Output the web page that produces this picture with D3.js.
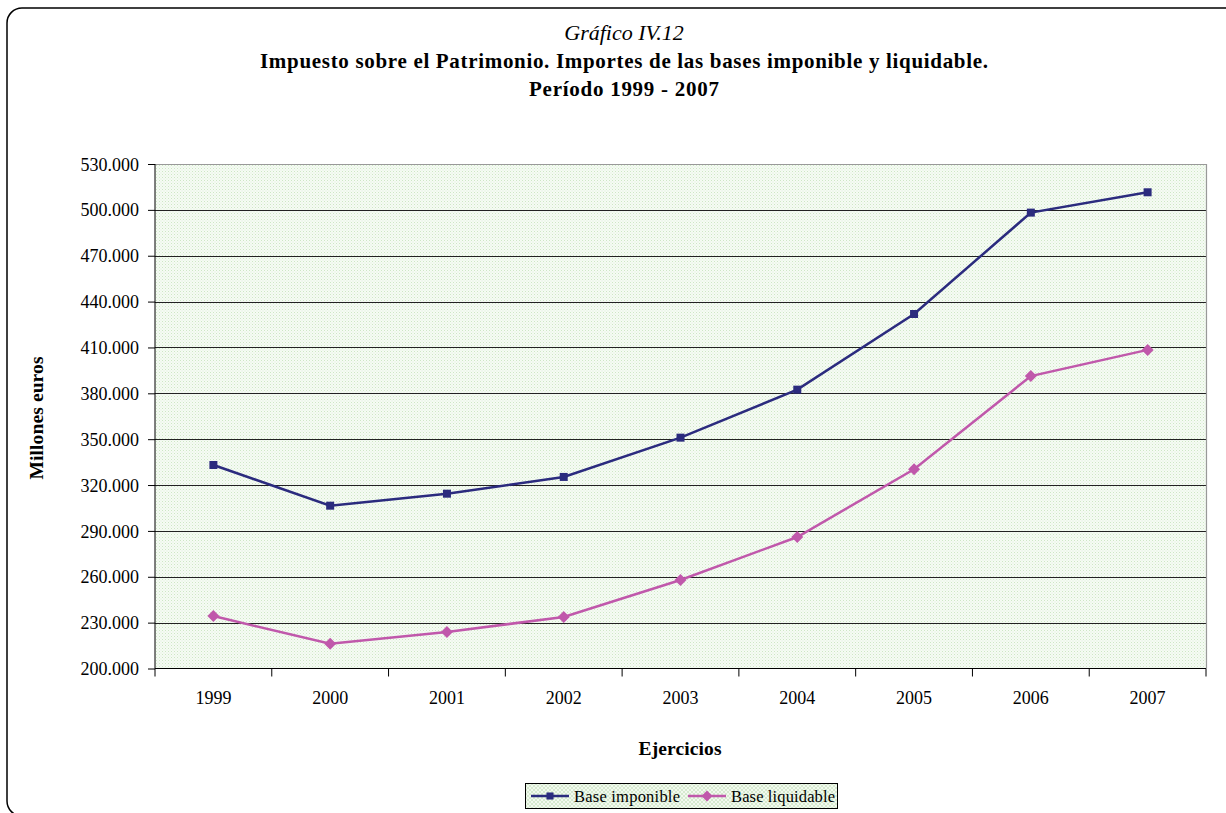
<!DOCTYPE html>
<html><head><meta charset="utf-8">
<script src="https://cdn.jsdelivr.net/npm/d3@7"></script>
<style>body{margin:0;background:#fff;}svg{display:block;}</style>
</head><body>
<svg id="c" width="1226" height="813"></svg>
<script>
const years = ["1999","2000","2001","2002","2003","2004","2005","2006","2007"];
const baseImponible = [333100, 306500, 314350, 325300, 351000, 382400, 431900, 498200, 511500];
const baseLiquidable = [234300, 216200, 223900, 233700, 257900, 286000, 330300, 391300, 408400];
const yTicks = [200000,230000,260000,290000,320000,350000,380000,410000,440000,470000,500000,530000];
const seriesNames = ["Base imponible","Base liquidable"];
const titleLines = ["Gráfico IV.12","Impuesto sobre el Patrimonio. Importes de las bases imponible y liquidable.","Período 1999 - 2007"];

const svg = d3.select("#c");
const serif = "'Liberation Serif','Times New Roman',serif";
const L=155, R=1206, T=164, B=668.5;

const defs = svg.append("defs");
const pat = defs.append("pattern").attr("id","dots").attr("patternUnits","userSpaceOnUse").attr("width",3).attr("height",3);
pat.append("rect").attr("width",3).attr("height",3).attr("fill","#f6fbf4");
pat.append("rect").attr("x",0).attr("y",0).attr("width",1).attr("height",1).attr("fill","#cde7c5");
pat.append("rect").attr("x",1.5).attr("y",1.5).attr("width",1).attr("height",1).attr("fill","#ddf0d8");
const pat2 = defs.append("pattern").attr("id","hatch").attr("patternUnits","userSpaceOnUse").attr("width",4).attr("height",4);
pat2.append("rect").attr("width",4).attr("height",4).attr("fill","#f2f9ef");
pat2.append("path").attr("d","M0,0L4,4M4,0L0,4").attr("stroke","#cfe6c6").attr("stroke-width",0.8);

// outer frame
svg.append("rect").attr("x",7).attr("y",8).attr("width",1240).attr("height",808).attr("rx",15)
  .attr("fill","#fff").attr("stroke","#000").attr("stroke-width",1.5);

// titles
svg.append("text").attr("x",624).attr("y",40).attr("text-anchor","middle").attr("font-family",serif)
  .attr("font-size",22).attr("font-style","italic").text(titleLines[0]);
svg.append("text").attr("x",624).attr("y",68).attr("text-anchor","middle").attr("font-family",serif)
  .attr("font-size",21).attr("font-weight","bold").attr("textLength",728).attr("lengthAdjust","spacing").text(titleLines[1]);
svg.append("text").attr("x",624).attr("y",96).attr("text-anchor","middle").attr("font-family",serif)
  .attr("font-size",21).attr("font-weight","bold").attr("textLength",190).attr("lengthAdjust","spacing").text(titleLines[2]);

const x = d3.scaleBand().domain(years).range([L,R]);
const y = d3.scaleLinear().domain([200000,530000]).range([B,T]);

svg.append("rect").attr("x",L).attr("y",T).attr("width",R-L).attr("height",B-T).attr("fill","url(#dots)");

// gridlines
svg.append("g").selectAll("line").data(yTicks.filter(d=>d>200000 && d<530000)).join("line")
  .attr("x1",L).attr("x2",R).attr("y1",d=>Math.round(y(d))+0.5).attr("y2",d=>Math.round(y(d))+0.5)
  .attr("stroke","#222").attr("stroke-width",1);
// top and right border gray
svg.append("path").attr("d",`M${L},${T+0.5}H${R+0.5}V${B}`).attr("fill","none").attr("stroke","#999").attr("stroke-width",1.2);

const fmt = d => d3.format(",")(d).replace(/,/g,".");
const yAxis = svg.append("g").attr("transform",`translate(${L},0)`)
  .call(d3.axisLeft(y).tickValues(yTicks).tickSize(7).tickPadding(9).tickFormat(fmt));
yAxis.selectAll("text").attr("font-family",serif).attr("font-size",18).attr("fill","#000").attr("dy","0.34em");
yAxis.selectAll("line,path").attr("stroke","#000");
yAxis.select(".domain").attr("d",`M0,${T}V${B}`);

const xAxis = svg.append("g").attr("transform",`translate(0,${B})`)
  .call(d3.axisBottom(x).tickSize(0).tickPadding(23));
xAxis.selectAll("text").attr("font-family",serif).attr("font-size",18).attr("fill","#000");
xAxis.select(".domain").attr("d",`M${L},0H${R}`).attr("stroke","#000");
svg.append("g").selectAll("line").data(years.map((d,i)=>i).concat([years.length])).join("line")
  .attr("x1",i=>L+i*x.bandwidth()).attr("x2",i=>L+i*x.bandwidth())
  .attr("y1",B).attr("y2",B+8).attr("stroke","#000");

// axis titles
svg.append("text").attr("transform","translate(43,418) rotate(-90)").attr("text-anchor","middle")
  .attr("font-family",serif).attr("font-size",19.5).attr("font-weight","bold")
  .attr("textLength",123).attr("lengthAdjust","spacing").text("Millones euros");
svg.append("text").attr("x",680).attr("y",755).attr("text-anchor","middle")
  .attr("font-family",serif).attr("font-size",19.5).attr("font-weight","bold")
  .attr("textLength",83).attr("lengthAdjust","spacing").text("Ejercicios");

const cx = d => x(d)+x.bandwidth()/2;
const colors = ["#2b2b7e","#c058ab"];
const data = [baseImponible, baseLiquidable];
const line = d3.line().x((d,i)=>cx(years[i])).y(d=>y(d));
const diamond = r => `M0,${-r}L${r},0L0,${r}L${-r},0Z`;
data.forEach((vals,k)=>{
  svg.append("path").datum(vals).attr("d",line).attr("fill","none").attr("stroke",colors[k]).attr("stroke-width",2.5);
  const sym = k===0 ? d3.symbol().type(d3.symbolSquare).size(64)() : diamond(6);
  svg.append("g").selectAll("path").data(vals).join("path")
    .attr("transform",(d,i)=>`translate(${cx(years[i])},${y(d)})`).attr("d",sym).attr("fill",colors[k]);
});

// legend
const lg = svg.append("g");
lg.append("rect").attr("x",525.5).attr("y",783.5).attr("width",312).attr("height",25)
  .attr("fill","url(#hatch)").attr("stroke","#000").attr("stroke-width",1);
const items = [{x:531, tx:574, w:106},{x:688, tx:731, w:104}];
items.forEach((it,k)=>{
  lg.append("line").attr("x1",it.x).attr("x2",it.x+38).attr("y1",796).attr("y2",796).attr("stroke",colors[k]).attr("stroke-width",2.5);
  const sym = k===0 ? d3.symbol().type(d3.symbolSquare).size(50)() : diamond(5.5);
  lg.append("path").attr("transform",`translate(${it.x+19},796)`).attr("d",sym).attr("fill",colors[k]);
  lg.append("text").attr("x",it.tx).attr("y",802).attr("font-family",serif).attr("font-size",16.5)
    .attr("textLength",it.w).attr("lengthAdjust","spacing").text(seriesNames[k]);
});
</script>
</body></html>
